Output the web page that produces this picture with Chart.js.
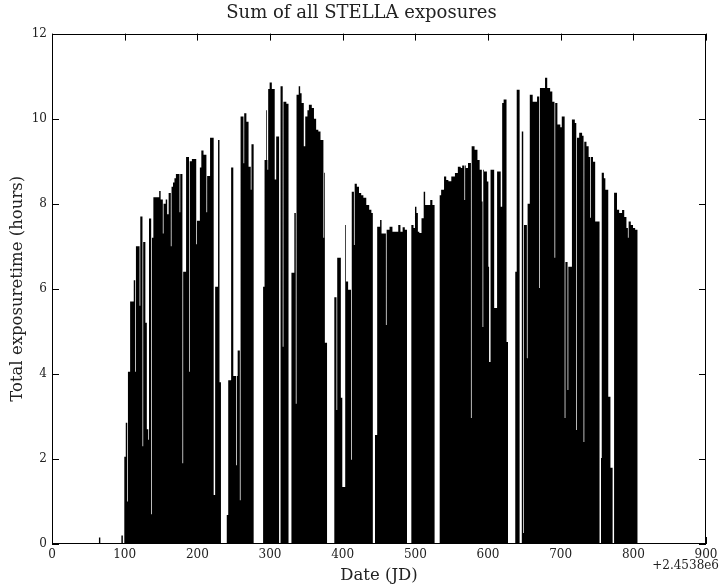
<!DOCTYPE html>
<html><head><meta charset="utf-8">
<script src="https://cdn.jsdelivr.net/npm/chart.js@4.4.1/dist/chart.umd.min.js"></script>
<style>html,body{margin:0;padding:0;background:#fff;}canvas{display:block;}</style>
</head><body>
<canvas id="c" width="723" height="588"></canvas>
<script>
const titleText = 'Sum of all STELLA exposures';
const xLabel = 'Date (JD)';
const yLabel = 'Total exposuretime (hours)';
const offsetLabel = '+2.4538e6';
const xTicks = [0, 100, 200, 300, 400, 500, 600, 700, 800, 900];
const yTicks = [0, 2, 4, 6, 8, 10, 12];
const firstDay = 64;
const hours = [
0,0.15,0.15,0,0,0,0,0,0,0,
0,0,0,0,0,0,0,0,0,0,
0,0,0,0,0,0,0,0,0,0,
0,0,0.2,0.2,0,0,2.05,2.05,2.85,2.85,
1.0,4.05,4.05,4.05,5.7,5.7,5.7,5.7,5.7,6.2,
6.2,4.05,7.0,7.0,7.0,7.0,7.0,5.6,7.7,7.7,
7.7,2.3,7.1,7.1,7.1,5.2,5.2,2.7,2.7,2.45,
7.65,7.65,7.65,0.7,7.2,7.2,8.15,8.15,8.15,8.15,
8.15,8.15,8.15,8.15,8.3,8.3,8.1,8.1,8.1,7.3,
8.0,8.0,8.0,8.1,8.1,7.75,7.75,8.25,8.25,8.25,
7.0,8.4,8.4,8.5,8.5,8.6,8.6,8.7,8.7,8.7,
8.7,8.7,7.8,8.7,8.7,8.7,1.9,6.4,6.4,6.4,
6.4,9.1,9.1,9.1,9.1,4.05,9.0,9.0,9.0,9.05,
9.05,9.05,9.05,9.05,9.05,7.05,7.6,7.6,7.6,7.6,
8.85,8.85,9.25,9.25,9.25,9.15,9.15,9.15,9.15,7.8,
8.65,8.65,8.65,8.65,9.55,9.55,9.55,9.55,9.55,1.15,
1.15,6.05,6.05,6.05,6.05,9.5,9.5,3.8,3.8,0,
0,0,0,0,0,0,0,0.68,0.68,3.85,
3.85,3.85,3.85,8.85,8.85,8.85,3.95,3.95,3.95,3.95,
1.85,3.95,4.55,4.55,4.55,1.03,10.05,10.05,10.05,10.05,
8.95,10.13,10.13,10.13,9.93,9.93,9.93,8.87,8.87,8.87,
8.33,9.4,9.4,9.4,0,0,0,0,0,0,
0,0,0,0,0,0,0,6.05,6.05,9.03,
9.03,10.2,9.03,8.8,10.7,10.7,10.85,10.85,10.85,10.7,
10.7,10.7,10.7,8.57,8.57,9.58,9.58,9.58,9.58,0,
0,10.76,10.76,10.76,4.64,10.4,10.4,10.4,10.4,10.35,
10.35,10.35,0,0,0,0,6.38,6.38,6.38,6.38,
7.78,7.78,3.3,10.56,10.56,10.56,10.76,10.76,10.6,10.6,
10.37,10.37,10.37,9.35,9.35,10.05,10.05,10.05,10.2,10.2,
10.33,10.33,10.33,10.33,10.25,10.25,10.25,10.0,10.0,10.0,
9.74,9.74,9.74,9.7,9.7,9.7,9.5,9.5,9.5,9.5,
7.2,8.73,4.73,4.73,4.73,0,0,0,0,0,
0,0,0,0,0,5.8,5.8,5.8,3.15,6.73,
6.73,6.73,6.73,6.73,3.44,3.44,1.34,1.34,1.34,1.34,
7.5,6.17,6.17,6.17,5.98,5.98,5.98,5.98,1.98,8.28,
8.28,8.28,7.03,8.47,8.47,8.47,8.4,8.4,8.4,8.25,
8.25,8.25,8.2,8.2,8.2,8.14,8.14,8.14,8.14,7.97,
7.97,7.97,7.97,7.86,7.86,7.86,7.78,7.78,0,0,
0,2.56,2.56,2.56,7.46,7.46,7.46,7.46,7.62,7.62,
7.3,7.3,7.3,7.3,7.3,7.3,5.15,7.39,7.39,7.39,
7.39,7.46,7.46,7.46,7.46,7.34,7.34,7.34,7.34,7.34,
7.34,7.34,7.34,7.5,7.5,7.5,7.34,7.34,7.34,7.45,
7.45,7.45,7.39,7.39,7.39,0,0,0,0,0,
0,7.5,7.5,7.5,7.43,7.43,7.93,7.93,7.78,7.78,
7.34,7.34,7.31,7.31,7.31,7.66,7.66,7.66,8.28,8.28,
7.97,7.97,7.97,7.97,7.97,7.97,7.97,8.09,8.09,8.09,
7.97,7.97,7.97,0,0,0,0,0,0,0,
8.2,8.2,8.33,8.33,8.33,8.33,8.64,8.64,8.64,8.56,
8.56,8.56,8.53,8.53,8.53,8.53,8.64,8.64,8.64,8.64,
8.64,8.72,8.72,8.72,8.72,8.87,8.87,8.87,8.87,8.84,
8.84,8.9,8.9,8.9,8.09,8.9,8.84,8.84,8.84,8.96,
8.96,8.96,8.96,2.96,9.35,9.35,9.35,9.35,9.27,9.27,
9.27,9.27,9.03,9.03,9.03,8.8,8.8,8.8,8.05,5.1,
8.8,8.76,8.76,8.76,8.76,8.52,8.52,6.52,4.28,4.28,
8.8,8.8,8.8,8.8,8.8,5.55,5.55,5.55,5.55,8.76,
8.76,8.76,8.76,8.76,7.93,7.93,10.37,10.37,10.45,10.45,
10.45,10.45,4.75,4.75,0,0,0,0,0,0,
0,0,0,0,6.4,6.4,10.68,10.68,10.68,10.68,
0,0,0,9.7,9.7,0.26,7.5,7.5,7.5,7.5,
4.37,8.0,8.0,8.0,10.56,10.56,10.56,10.56,10.4,10.4,
10.4,10.4,10.4,10.4,10.52,10.52,10.52,6.02,10.72,10.72,
10.72,10.72,10.72,10.72,10.72,10.96,10.96,10.96,10.72,10.72,
10.72,10.72,10.64,10.64,10.64,10.4,10.4,10.4,6.73,10.37,
10.37,10.37,9.86,9.86,9.86,9.86,9.8,9.8,10.05,10.05,
10.05,10.05,2.96,6.63,6.63,6.63,3.62,6.52,6.52,6.52,
6.52,6.52,9.98,9.98,9.98,9.98,9.9,9.9,2.68,9.55,
9.55,9.55,9.67,9.67,9.67,9.67,9.6,9.6,2.4,9.46,
9.46,9.46,9.35,9.35,9.35,9.1,9.1,7.67,9.1,9.1,
9.1,8.99,8.99,8.99,7.58,7.58,7.58,7.58,7.58,7.58,
0,0,2.02,8.73,8.73,8.73,8.6,8.6,8.33,8.33,
8.33,8.33,3.46,3.46,3.46,1.79,1.79,1.79,0,0,
8.26,8.26,8.26,8.26,7.86,7.86,7.86,7.78,7.78,7.78,
7.78,7.85,7.85,7.85,7.69,7.69,7.69,7.43,7.43,7.2,
7.58,7.58,7.58,7.5,7.5,7.5,7.43,7.43,7.43,7.39,
7.39,7.39,7.39
];

const FONT = "'DejaVu Serif', serif";
const TEXT = '#222';
const points = hours.map((h, i) => ({ x: firstDay + i, y: h }));

const framePlugin = {
  id: 'frame',
  afterDatasetsDraw(chart) {
    const { ctx, chartArea: a, scales } = chart;
    const sx = scales.x, sy = scales.y;
    const L = 7;
    ctx.save();
    ctx.strokeStyle = '#000';
    ctx.lineWidth = 1;
    ctx.beginPath();
    xTicks.forEach(v => {
      const px = Math.round(sx.getPixelForValue(v)) + 0.5;
      ctx.moveTo(px, a.bottom); ctx.lineTo(px, a.bottom - L);
      ctx.moveTo(px, a.top); ctx.lineTo(px, a.top + L);
    });
    yTicks.forEach(v => {
      const py = Math.round(sy.getPixelForValue(v)) + 0.5;
      ctx.moveTo(a.left, py); ctx.lineTo(a.left + L, py);
      ctx.moveTo(a.right, py); ctx.lineTo(a.right - L, py);
    });
    ctx.stroke();
    ctx.strokeRect(Math.round(a.left) + 0.5, Math.round(a.top) + 0.5,
      Math.round(a.right - a.left) - 1, Math.round(a.bottom - a.top) - 1);
    ctx.fillStyle = TEXT;
    ctx.font = "12px " + FONT;
    ctx.textAlign = 'right';
    ctx.textBaseline = 'middle';
    ctx.fillText(offsetLabel, 719, 566);
    ctx.restore();
  }
};

new Chart(document.getElementById('c'), {
  type: 'line',
  data: {
    datasets: [{
      data: points,
      stepped: 'middle',
      fill: 'origin',
      backgroundColor: '#000',
      borderColor: 'rgba(0,0,0,0)',
      borderWidth: 0,
      pointRadius: 0,
      pointHoverRadius: 0
    }]
  },
  options: {
    responsive: false,
    animation: false,
    events: [],
    layout: { padding: 0 },
    plugins: {
      legend: { display: false },
      tooltip: { enabled: false },
      title: {
        display: true,
        text: titleText,
        color: TEXT,
        font: { family: FONT, size: 18, weight: 'normal' },
        padding: { top: 3, bottom: 9 }
      }
    },
    scales: {
      x: {
        type: 'linear',
        min: 0, max: 900,
        afterBuildTicks: s => { s.ticks = xTicks.map(v => ({ value: v })); },
        ticks: { color: TEXT, font: { family: FONT, size: 12 }, padding: 4, maxRotation: 0 },
        grid: { display: false, drawTicks: false },
        border: { display: false },
        title: { display: true, text: xLabel, color: TEXT, font: { family: FONT, size: 16.5 }, padding: { top: 0, bottom: 2 } },
        afterFit: s => { s.height = 44; }
      },
      y: {
        type: 'linear',
        min: 0, max: 12,
        afterBuildTicks: s => { s.ticks = yTicks.map(v => ({ value: v })); },
        ticks: { color: TEXT, font: { family: FONT, size: 12 }, padding: 5 },
        grid: { display: false, drawTicks: false },
        border: { display: false },
        title: { display: true, text: yLabel, color: TEXT, font: { family: FONT, size: 16.5 }, padding: { top: 8, bottom: 0 } },
        afterFit: s => { s.width = 52; }
      },
      yr: {
        type: 'linear',
        position: 'right',
        display: true,
        ticks: { display: false },
        grid: { display: false, drawTicks: false },
        border: { display: false },
        afterFit: s => { s.width = 17; }
      }
    }
  },
  plugins: [framePlugin]
});
</script>
</body></html>
